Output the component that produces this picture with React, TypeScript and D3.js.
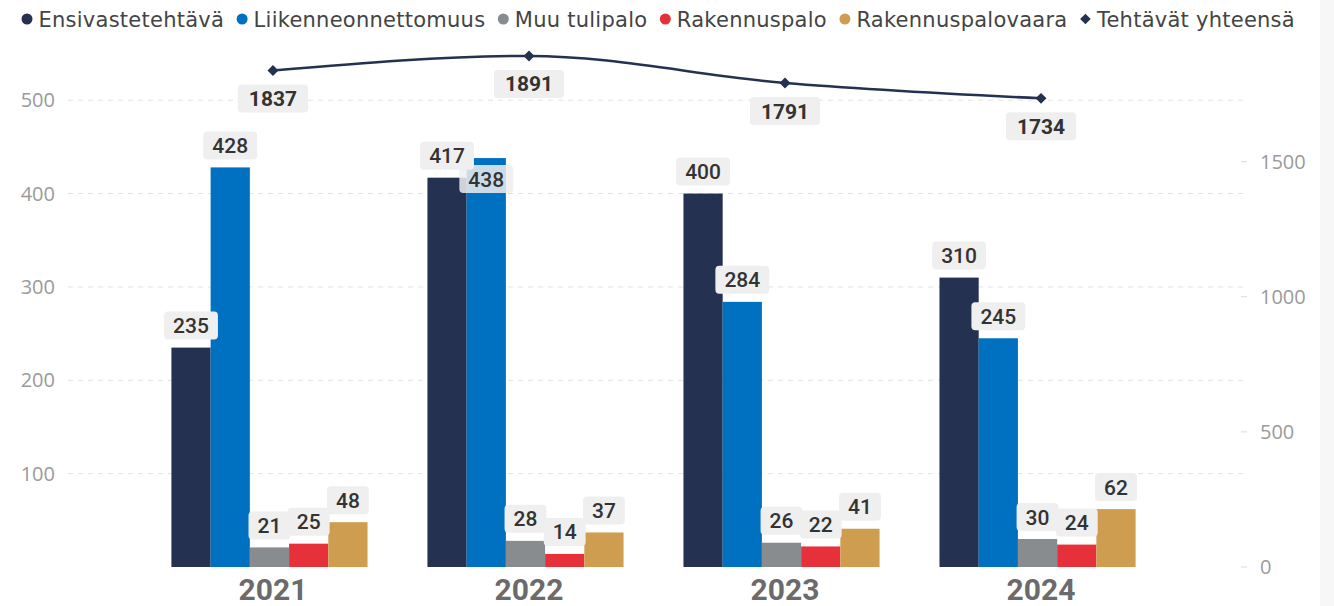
import React, { useEffect, useRef } from "react";
import * as d3 from "d3";

const years = ["2021", "2022", "2023", "2024"];
const seriesNames = ["Ensivastetehtävä", "Liikenneonnettomuus", "Muu tulipalo", "Rakennuspalo", "Rakennuspalovaara"];
const ensivaste = [235, 417, 400, 310];
const liikenne = [428, 438, 284, 245];
const muuTulipalo = [21, 28, 26, 30];
const rakennuspalo = [25, 14, 22, 24];
const rakennuspalovaara = [48, 37, 41, 62];
const totalName = "Tehtävät yhteensä";
const totals = [1837, 1891, 1791, 1734];
const leftTicks = [100, 200, 300, 400, 500];
const rightTicks = [0, 500, 1000, 1500];
const seriesColors = ["#243150", "#0070C0", "#898C8E", "#E7313A", "#CF9D4F"];
const lineColor = "#243150";

const seriesValues = [ensivaste, liikenne, muuTulipalo, rakennuspalo, rakennuspalovaara];

const W = 1334;
const H = 606;

export default function App() {
  const ref = useRef<SVGSVGElement | null>(null);

  useEffect(() => {
    const svg = d3.select(ref.current);
    svg.selectAll("*").remove();

    const plotTop = 53.5;
    const plotBottom = 567;
    const gridLeft = 68;
    const gridRight = 1248;

    const x = d3.scaleBand<string>().domain(years).range([69, 1238]).paddingInner(0.234).paddingOuter(0.4);
    const x1 = d3.scaleBand<number>().domain(d3.range(seriesNames.length)).range([0, x.bandwidth()]).padding(0);
    const yL = d3.scaleLinear().domain([0, 550]).range([plotBottom, plotTop]);
    const yR = d3.scaleLinear().domain([0, 1900]).range([plotBottom, plotTop]);
    const catShift = 3.5;
    const cx = (yr: string) => (x(yr) as number) + x.bandwidth() / 2 + catShift;

    svg.append("rect").attr("x", 0).attr("y", 0).attr("width", W).attr("height", H).attr("fill", "#ffffff");
    svg.append("rect").attr("x", 1320).attr("y", 0).attr("width", W - 1320).attr("height", H).attr("fill", "#f7f7f7");

    // gridlines
    svg.append("g").selectAll("line").data(leftTicks).join("line")
      .attr("x1", gridLeft).attr("x2", gridRight)
      .attr("y1", (d) => yL(d)).attr("y2", (d) => yL(d))
      .attr("stroke", "#e2e2e2").attr("stroke-width", 1).attr("stroke-dasharray", "5,5");

    const axisFont = "'Open Sans', 'Noto Sans', sans-serif";
    // left axis labels
    svg.append("g").selectAll("text").data(leftTicks).join("text")
      .attr("x", 55).attr("y", (d) => yL(d)).attr("dy", "0.36em")
      .attr("text-anchor", "end").attr("font-family", axisFont).attr("font-size", 20)
      .attr("fill", "#9a9a9a").text((d) => String(d));

    // right axis
    svg.append("g").selectAll("line").data(rightTicks).join("line")
      .attr("x1", 1241).attr("x2", 1247).attr("y1", (d) => yR(d)).attr("y2", (d) => yR(d))
      .attr("stroke", "#dddddd");
    svg.append("g").selectAll("text").data(rightTicks).join("text")
      .attr("x", 1260).attr("y", (d) => yR(d)).attr("dy", "0.36em")
      .attr("text-anchor", "start").attr("font-family", axisFont).attr("font-size", 20)
      .attr("fill", "#9a9a9a").text((d) => String(d));

    // bars
    const bars = svg.append("g");
    years.forEach((yr, i) => {
      seriesValues.forEach((vals, s) => {
        bars.append("rect")
          .attr("x", (x(yr) as number) + (x1(s) as number))
          .attr("y", yL(vals[i]))
          .attr("width", x1.bandwidth())
          .attr("height", plotBottom - yL(vals[i]))
          .attr("fill", seriesColors[s]);
      });
    });

    // year labels
    svg.append("g").selectAll("text").data(years).join("text")
      .attr("x", (d) => cx(d)).attr("y", 600)
      .attr("text-anchor", "middle").attr("font-family", "Roboto, sans-serif").attr("font-weight", 700)
      .attr("font-size", 30).attr("fill", "#6b6b6b").text((d) => d);

    // line
    const pts: [number, number][] = years.map((yr, i) => [cx(yr), yR(totals[i])]);
    const line = d3.line().curve(d3.curveMonotoneX);
    svg.append("path").attr("d", line(pts) as string).attr("fill", "none")
      .attr("stroke", lineColor).attr("stroke-width", 2.5);
    const diamond = d3.symbol().type(d3.symbolSquare).size(60);
    svg.append("g").selectAll("path").data(pts).join("path")
      .attr("d", diamond() as string)
      .attr("transform", (d) => `translate(${d[0]},${d[1]}) rotate(45)`)
      .attr("fill", lineColor);

    // data labels
    const labelFont = "Roboto, sans-serif";
    const labelLayer = svg.append("g");
    const measure = (txt: string, weight: number) => {
      const t = labelLayer.append("text").attr("font-family", labelFont).attr("font-size", 21)
        .attr("font-weight", weight).text(txt);
      const w = (t.node() as SVGTextElement).getComputedTextLength();
      t.remove();
      return w;
    };
    const drawLabel = (txt: string, cxp: number, top: number, w: number, weight: number, opacity: number) => {
      labelLayer.append("rect").attr("x", cxp - w / 2).attr("y", top).attr("width", w).attr("height", 28)
        .attr("rx", 4).attr("fill", "#efefef").attr("fill-opacity", opacity);
      labelLayer.append("text").attr("x", cxp).attr("y", top + 14).attr("dy", "0.36em")
        .attr("text-anchor", "middle").attr("font-family", labelFont).attr("font-size", 21)
        .attr("font-weight", weight).attr("fill", "#333333").text(txt);
    };

    years.forEach((yr, i) => {
      const placed: { x0: number; x1: number; y0: number; y1: number }[] = [];
      seriesValues.forEach((vals, s) => {
        const v = vals[i];
        const txt = String(v);
        const bw = measure(txt, 500) + 18;
        const bx = (x(yr) as number) + (x1(s) as number) + x1.bandwidth() / 2;
        const barTop = yL(v);
        let top = barTop - 8 - 28;
        const collides = placed.some((p) => {
          const ox = Math.min(p.x1, bx + bw / 2) - Math.max(p.x0, bx - bw / 2);
          const oy = Math.min(p.y1, top + 28) - Math.max(p.y0, top);
          return ox > 10 && oy > 4;
        });
        let op = 1;
        if (collides) {
          top = barTop + 7;
          op = 0.85;
        }
        placed.push({ x0: bx - bw / 2, x1: bx + bw / 2, y0: top, y1: top + 28 });
        drawLabel(txt, bx, top, bw, 500, op);
      });
    });

    pts.forEach((p, i) => {
      const txt = String(totals[i]);
      const bw = measure(txt, 700) + 22;
      drawLabel(txt, p[0], p[1] + 14, bw, 700, 1);
    });

    // legend
    const legendFont = "'DejaVu Sans', sans-serif";
    const lg = svg.append("g");
    let lx = 27;
    const ly = 19;
    const legendItems = [...seriesNames.map((n, s) => ({ name: n, color: seriesColors[s], line: false })),
      { name: totalName, color: lineColor, line: true }];
    legendItems.forEach((it) => {
      if (it.line) {
        lg.append("path").attr("d", d3.symbol().type(d3.symbolSquare).size(56)() as string)
          .attr("transform", `translate(${lx},${ly}) rotate(45)`).attr("fill", it.color);
      } else {
        lg.append("circle").attr("cx", lx).attr("cy", ly).attr("r", 5.5).attr("fill", it.color);
      }
      const t = lg.append("text").attr("x", lx + 11.5).attr("y", ly).attr("dy", "0.36em")
        .attr("font-family", legendFont).attr("font-size", 21).attr("letter-spacing", 0.25)
        .attr("fill", "#444444").text(it.name);
      const w = (t.node() as SVGTextElement).getComputedTextLength();
      lx = lx + 11.5 + w + 18;
    });
  }, []);

  return (
    <svg ref={ref} width={W} height={H} style={{ position: "absolute", left: 0, top: 0, display: "block" }} />
  );
}
